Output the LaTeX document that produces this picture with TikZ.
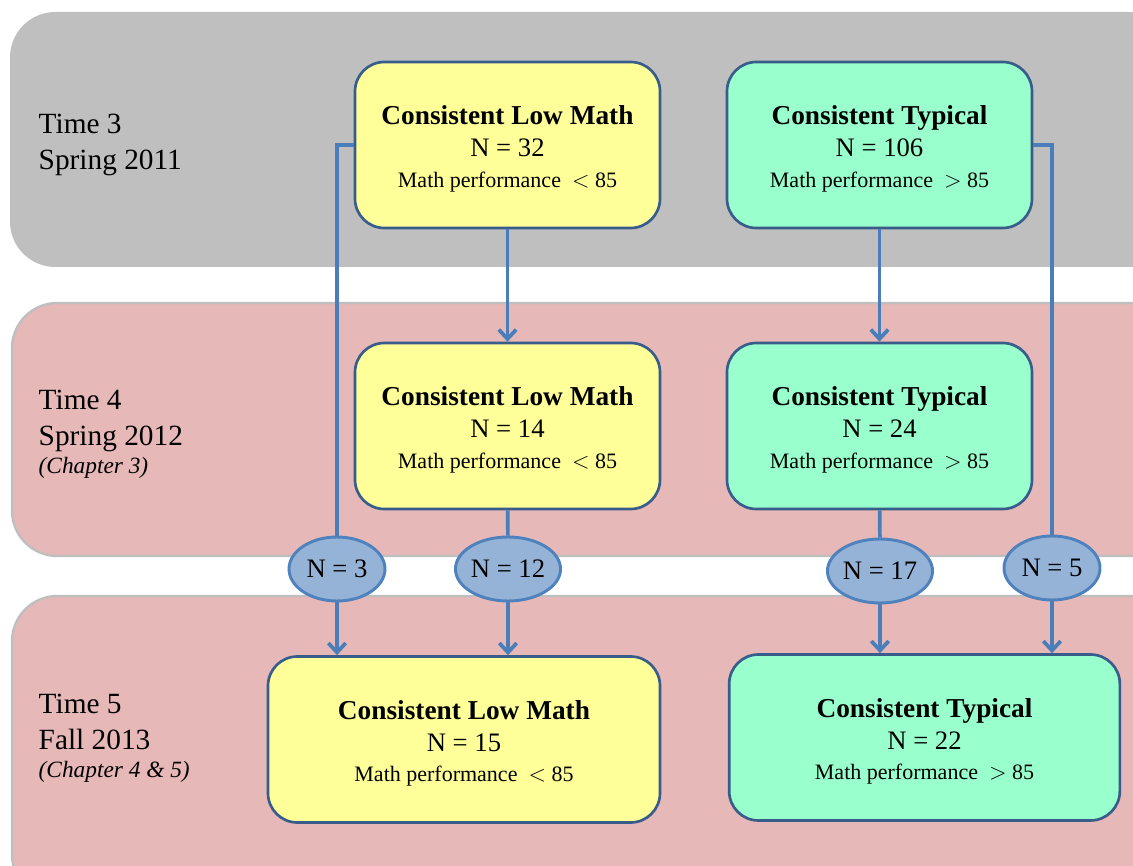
\documentclass[tikz,border=0pt]{standalone}
\usepackage{fontspec}
\setmainfont{Liberation Serif}
\usetikzlibrary{arrows.meta,shapes.geometric}
\definecolor{bandgray}{HTML}{BFBFBF}
\definecolor{bandpink}{HTML}{E6B8B7}
\definecolor{lowfill}{HTML}{FFFF99}
\definecolor{typfill}{HTML}{99FFCC}
\definecolor{boxline}{HTML}{385D8A}
\definecolor{flowline}{HTML}{4A7EBB}
\definecolor{countfill}{HTML}{95B3D7}
\definecolor{countline}{HTML}{4F81BD}
\tikzset{
  band/.style={rounded corners=34pt},
  groupbox/.style={draw=boxline, line width=2pt, rounded corners=22pt, align=center,
    minimum width=228.75pt, minimum height=124.5pt, inner sep=0pt,
    font=\fontsize{18}{24}\selectfont},
  lowbox/.style={groupbox, fill=lowfill},
  typbox/.style={groupbox, fill=typfill},
  countnode/.style={ellipse, draw=countline, line width=2.2pt, fill=countfill,
    minimum width=72pt, minimum height=48pt, inner sep=0pt, font=\fontsize{20}{24}\selectfont},
  timelabel/.style={anchor=west, align=left, font=\fontsize{22}{27}\selectfont},
  flow/.style={draw=flowline, line width=2.8pt},
  flowarrow/.style={flow, -{Straight Barb[length=7pt,width=13pt,line width=2.8pt]}}
}
\newcommand{\grouptext}[3]{%
  {\rule{0pt}{20pt}\fontsize{20.5}{24}\selectfont\bfseries #1}\\
  {\fontsize{20}{24}\selectfont N = #2}\\[-1pt]
  {\fontsize{16.5}{24}\selectfont Math performance\ \ #3}}

\begin{document}
\begin{tikzpicture}[x=0.75pt, y=-0.75pt]
    \useasboundingbox (0,0) rectangle (1133,866);
    \clip (0,0) rectangle (1133,866);
    % time bands
    \fill[band, bandgray] (10,12) rectangle (1175,267);
    \draw[band, fill=bandpink, draw=bandgray, line width=1.8pt] (12,303) rectangle (1175,556);
    \draw[band, fill=bandpink, draw=bandgray, line width=1.8pt] (12,596) rectangle (1175,900);
    % ---------------------
    \node[timelabel] (t3) at (34,145) {Time 3\\Spring 2011};
    \node[timelabel] (t4) at (34,434)
      {Time 4\\Spring 2012\\[-6pt]{\fontsize{17.5}{19}\selectfont\itshape (Chapter 3)}};
    \node[timelabel] (t5) at (34,738)
      {Time 5\\Fall 2013\\[-6pt]{\fontsize{17.5}{19}\selectfont\itshape (Chapter 4 \& 5)}};
    % ---------------------
    \node[lowbox] (lowA) at (507.5,145) {\grouptext{Consistent Low Math}{32}{$<$ 85}};
    \node[typbox] (typA) at (879.5,145) {\grouptext{Consistent Typical}{106}{$>$ 85}};
    \node[lowbox] (lowB) at (507.5,426) {\grouptext{Consistent Low Math}{14}{$<$ 85}};
    \node[typbox] (typB) at (879.5,426) {\grouptext{Consistent Typical}{24}{$>$ 85}};
    \node[lowbox, minimum width=294pt] (lowC) at (464,739.5) {\grouptext{Consistent Low Math}{15}{$<$ 85}};
    \node[typbox, minimum width=293pt] (typC) at (924.5,737.5) {\grouptext{Consistent Typical}{22}{$>$ 85}};
    % ---------------------
    \node[countnode] (n3)  at (337,569)  {N = 3};
    \node[countnode] (n12) at (508,569)  {N = 12};
    \node[countnode] (n17) at (880,571)  {N = 17};
    \node[countnode] (n5)  at (1052,568) {N = 5};
    % ---------------------
    \draw[flow] (lowA.west) -| (n3);
    \draw[flowarrow] (n3) -- (n3 |- lowC.north);
    \draw[flowarrow] (lowA) -- (lowB);
    \draw[flow] (lowB) -- (n12);
    \draw[flowarrow] (n12) -- (n12 |- lowC.north);
    \draw[flowarrow] (typA) -- (typB);
    \draw[flow] (typB) -- (n17);
    \draw[flowarrow] (n17) -- (n17 |- typC.north);
    \draw[flow] (typA.east) -| (n5);
    \draw[flowarrow] (n5) -- (n5 |- typC.north);
\end{tikzpicture}
\end{document}
